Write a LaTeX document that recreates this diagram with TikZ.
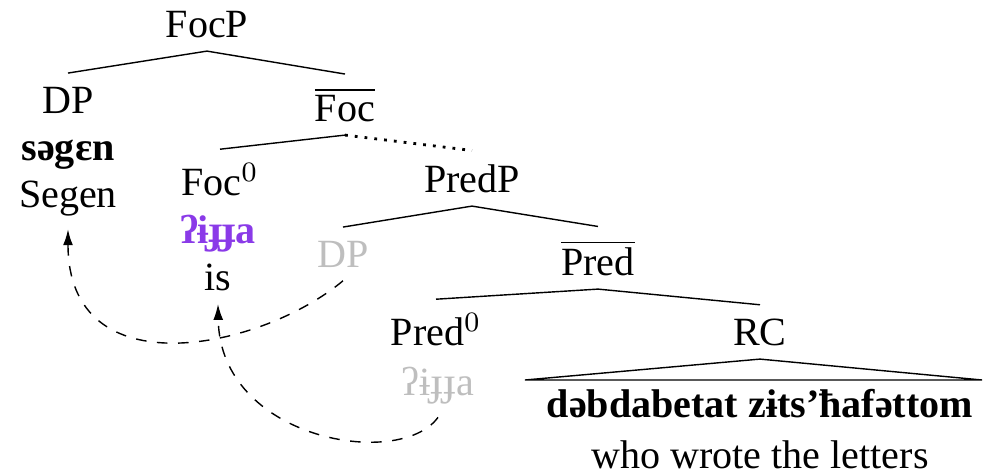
\documentclass[tikz,border=0pt]{standalone}
\usepackage{fontspec}
\setmainfont{Liberation Serif}
\usepackage{xcolor}
\usepackage{tikz}
\usetikzlibrary{arrows.meta}

\definecolor{focus}{RGB}{138,58,232}
\definecolor{copygray}{RGB}{190,190,190}

\begin{document}
\begin{tikzpicture}[font=\fontsize{11.4}{13.6}\selectfont,
  cat/.style={anchor=base, inner sep=0.13cm},
  move/.style={dashed, -{Latex[length=4.5pt,width=2.8pt]}}]

\useasboundingbox (0,0) rectangle (9.83,-4.73);

\node[cat] (focp) at (2.07,-0.37) {FocP};
\node[cat] (dp) at (0.68,-1.13) {DP};
\node[cat] (foc) at (3.45,-1.21) {$\overline{\mbox{Foc}}$};
\node[cat] (foczero) at (2.20,-1.95) {Foc$^0$};
\node[cat] (predp) at (4.72,-1.92) {PredP};
\node[cat, text=copygray] (dpcopy) at (3.43,-2.67) {DP};
\node[cat] (pred) at (5.98,-2.75) {$\overline{\mbox{Pred}}$};
\node[cat] (predzero) at (4.36,-3.45) {Pred$^0$};
\node[cat] (rc) at (7.60,-3.45) {RC};

\node[cat] (segenipa) at (0.68,-1.60) {\textbf{səgɛn}};
\node[cat] (segen) at (0.68,-2.07) {Segen};
\node[cat, text=focus] (ijja) at (2.18,-2.43) {\textbf{ʔɨɟɟa}};
\node[cat] (is) at (2.18,-2.90) {is};
\node[cat, text=copygray] (ijjacopy) at (4.38,-3.95) {ʔɨɟɟa};
\node[cat] (rcipa) at (7.60,-4.18) {\textbf{dəbdabetat zɨts’ħafəttom}};
\node[cat] (rcgloss) at (7.60,-4.68) {who wrote the letters};

\draw (focp.south) -- (dp.north);
\draw (focp.south) -- (foc.north);
\draw (foc.south) -- (foczero.north);
\draw[dotted, thick] (foc.south) -- (predp.north);
\draw (predp.south) -- (dpcopy.north);
\draw (predp.south) -- (pred.north);
\draw (pred.south) -- (predzero.north);
\draw (pred.south) -- (rc.north);

\coordinate (rcleft) at (5.25,-3.80);
\coordinate (rcright) at (9.82,-3.80);
\draw (rc.south) -- (rcleft) -- (rcright) -- cycle;

% movement
\draw[move] (dpcopy.south) .. controls (2.60,-3.50) and (0.68,-3.90) .. (segen.south);
\draw[move] (ijjacopy.south) .. controls (4.00,-4.70) and (2.20,-4.40) .. (is.south);

\end{tikzpicture}
\end{document}
